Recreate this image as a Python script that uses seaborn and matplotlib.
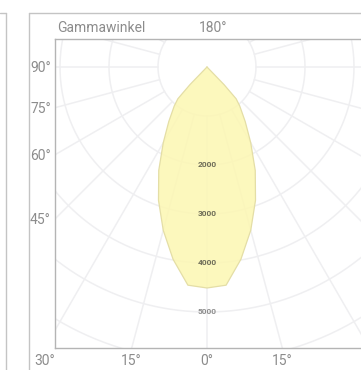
import numpy as np
import pandas as pd
import matplotlib
matplotlib.use("Agg")
import matplotlib.pyplot as plt
import matplotlib.transforms as mtransforms
from matplotlib.lines import Line2D
import seaborn as sns

# luminous intensity curve (cd) vs gamma angle (deg), symmetric
gamma = [0, 5, 10, 15, 20, 25, 30, 35, 40, 42.5, 44, 45]
intensity = [4510, 4470, 3985, 3450, 2895, 2330, 1785, 1360, 1040, 880, 500, 0]

ring_values = [1000, 2000, 3000, 4000, 5000, 6000, 7000, 8000]
ring_labels = ["2000", "3000", "4000", "5000"]
spoke_angles = list(range(0, 360, 15))
left_labels = [90, 75, 60, 45]
bottom_labels = [-30, -15, 0, 15]

sns.set_theme(style="white")
plt.rcParams["font.family"] = ["Roboto", "DejaVu Sans"]

fig = plt.figure(figsize=(3.61, 3.70), dpi=100)
W, H = 361, 370
ax = fig.add_axes([55 / W, (H - 348) / H, 306 / W, 309 / H])

x_left, x_right = -3102, 3143
y_bottom, y_top = -5735, 571

# grid
grid_col = "#efeff1"
t = np.linspace(0, 2 * np.pi, 400)
for r in ring_values:
    ax.plot(r * np.sin(t), r * np.cos(t), color=grid_col, lw=1.1, zorder=1)
for a in spoke_angles:
    g = np.deg2rad(a)
    ax.plot([1000 * np.sin(g), 9000 * np.sin(g)], [-1000 * np.cos(g), -9000 * np.cos(g)],
            color=grid_col, lw=1.1, zorder=1)

# curve
g_full = np.deg2rad(np.array([-v for v in gamma[::-1]] + gamma[1:]))
i_full = np.array(intensity[::-1] + intensity[1:])
curve = pd.DataFrame({"x": i_full * np.sin(g_full), "y": -i_full * np.cos(g_full)})
ax.fill(curve["x"], curve["y"], color="#fcf7b2", alpha=0.85, zorder=2, lw=0)
sns.lineplot(data=curve, x="x", y="y", sort=False, estimator=None, ax=ax,
             color="#e4dea6", lw=0.9, zorder=3)

for k, lab in enumerate(ring_labels):
    ax.text(0, -2000 - 1000 * k, lab, ha="center", va="center", fontsize=6,
            color="#6e6d58" if k < 3 else "#8e8e8e", fontweight="bold", zorder=4)

ax.set_xlim(x_left, x_right)
ax.set_ylim(y_bottom, y_top)
ax.set_aspect("auto")
ax.set_xlabel("")
ax.set_ylabel("")

ax.set_xticks([])
ax.set_yticks([x_left / np.tan(np.deg2rad(a)) if a != 90 else 0 for a in left_labels])
ax.set_yticklabels([f"{a}°" for a in left_labels])
ax.tick_params(axis="y", length=0, pad=3, labelsize=10, labelcolor="#8c8c8c")

trans = mtransforms.blended_transform_factory(ax.transData, ax.transAxes)
for a in bottom_labels:
    xpos = np.tan(np.deg2rad(a)) * -y_bottom
    ax.text(xpos, -0.042, f"{abs(a)}°", transform=trans, ha="center", va="center",
            fontsize=10, color="#8c8c8c", clip_on=False)

off = mtransforms.ScaledTranslation(6 / 100, 0, fig.dpi_scale_trans)
ax.text(0, 1.036, "180°", transform=trans + off, ha="center", va="center",
        fontsize=10, color="#8c8c8c", clip_on=False)
fig.text(57 / W, 1 - 28 / H, "Gammawinkel", ha="left", va="center",
         fontsize=10, color="#8c8c8c")

for side in ["left", "bottom", "top"]:
    ax.spines[side].set_color("#b4b4b4")
    ax.spines[side].set_linewidth(1.0)
ax.spines["right"].set_visible(False)

# outer frame lines
frame_col = "#c4c4c4"
def fig_line(x0, y0, x1, y1):
    fig.add_artist(Line2D([x0 / W, x1 / W], [1 - y0 / H, 1 - y1 / H],
                          transform=fig.transFigure, color=frame_col, lw=1.0))

fig_line(29, 13, W, 13)
fig_line(29, 13, 29, H)
fig_line(0, 13, 6, 13)
fig_line(6, 13, 6, H)

fig.savefig("out.png", dpi=100)
